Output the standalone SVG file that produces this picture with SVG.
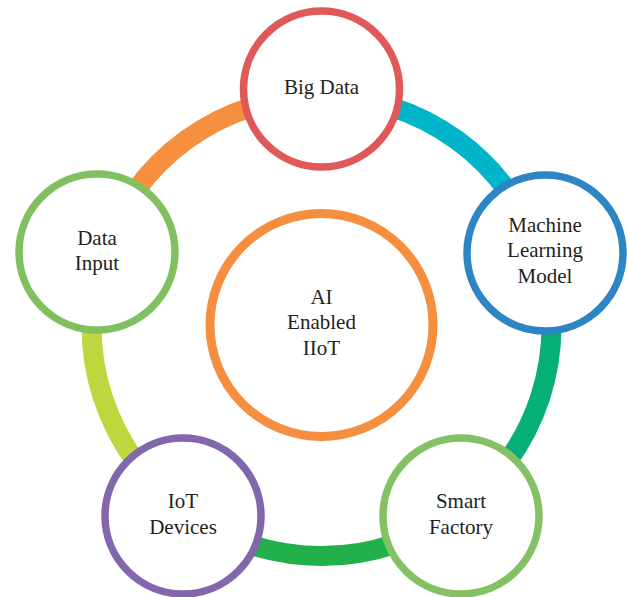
<svg xmlns="http://www.w3.org/2000/svg" width="627" height="597" viewBox="0 0 627 597">
<style>
.arc{fill:none;stroke-width:20}
.node{fill:#fff;stroke-width:7.5}
.lbl{font-family:"Liberation Serif","Times New Roman",serif;font-size:21px;fill:#231F20;text-anchor:middle}
</style>
<rect width="627" height="597" fill="#fff"/>
<g id="connectors">
<path class="arc" stroke="#F7903E" d="M102.76,254.93 A230,230 0 0 1 321.5,96"/>
<path class="arc" stroke="#00B5C9" d="M321.5,96 A230,230 0 0 1 540.24,254.93"/>
<path class="arc" stroke="#06AE78" d="M540.24,254.93 A230,230 0 0 1 456.69,512.07"/>
<path class="arc" stroke="#22B04B" d="M456.69,512.07 A230,230 0 0 1 186.31,512.07"/>
<path class="arc" stroke="#BFD73F" d="M186.31,512.07 A230,230 0 0 1 102.76,254.93"/>
</g>
<g id="center">
<circle cx="321.5" cy="325" r="111.5" fill="#fff" stroke="#F68E3F" stroke-width="9"/>
<text class="lbl" x="321.5" y="304">AI</text>
<text class="lbl" x="321.5" y="329">Enabled</text>
<text class="lbl" x="321.5" y="355">IIoT</text>
</g>
<g id="bigdata">
<circle class="node" cx="321.5" cy="89" r="78" stroke="#E05858"/>
<text class="lbl" x="321.5" y="94">Big Data</text>
</g>
<g id="ml">
<circle class="node" cx="545" cy="253" r="78" stroke="#2D86C3"/>
<text class="lbl" x="545" y="232">Machine</text>
<text class="lbl" x="545" y="257">Learning</text>
<text class="lbl" x="545" y="283">Model</text>
</g>
<g id="smart">
<circle class="node" cx="461" cy="516" r="78" stroke="#83C164"/>
<text class="lbl" x="461" y="508">Smart</text>
<text class="lbl" x="461" y="534">Factory</text>
</g>
<g id="iot">
<circle class="node" cx="183" cy="516" r="78" stroke="#8367AC"/>
<text class="lbl" x="183" y="508">IoT</text>
<text class="lbl" x="183" y="534">Devices</text>
</g>
<g id="datainput">
<circle class="node" cx="97" cy="252" r="78" stroke="#80C061"/>
<text class="lbl" x="97" y="245">Data</text>
<text class="lbl" x="97" y="270">Input</text>
</g>
</svg>
